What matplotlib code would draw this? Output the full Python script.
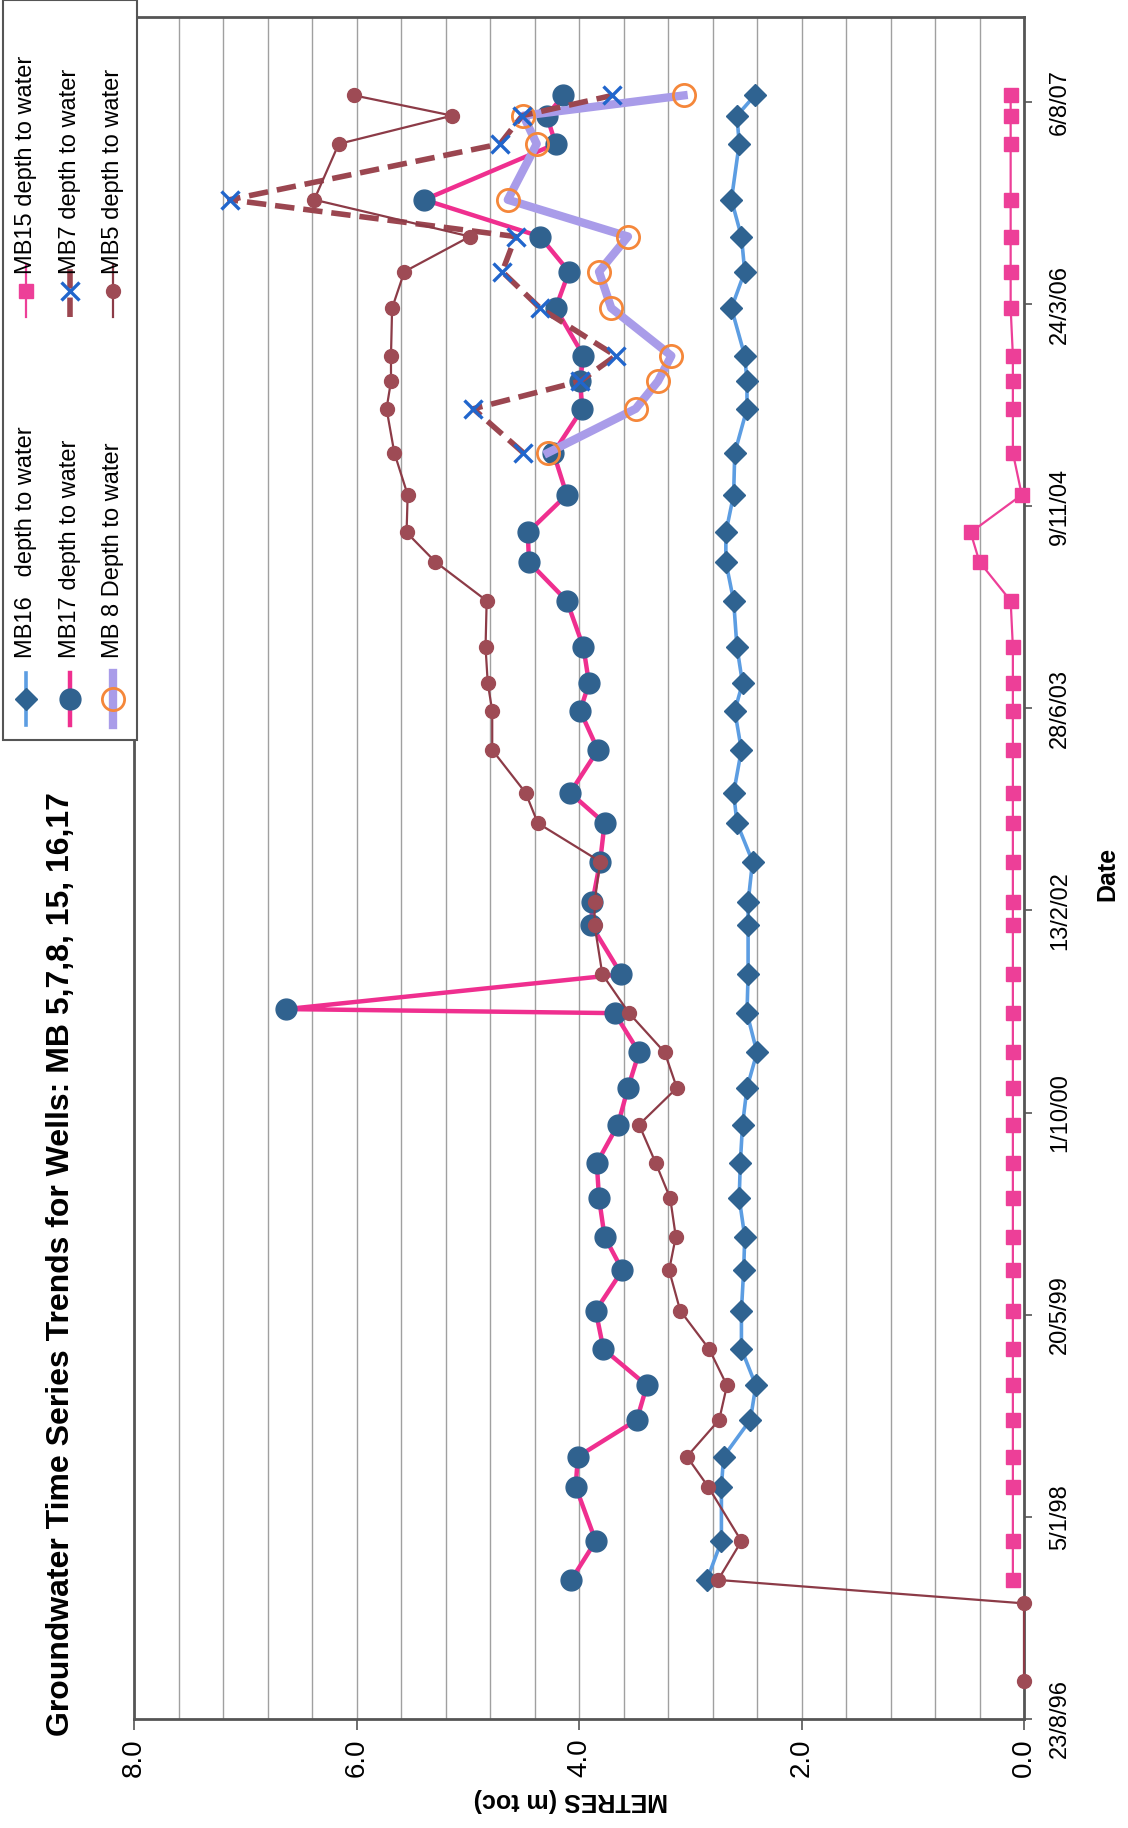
import matplotlib
matplotlib.use('Agg')
import matplotlib.pyplot as plt
from matplotlib.lines import Line2D
from matplotlib.patches import Rectangle
from matplotlib.ticker import FixedLocator, MultipleLocator
import numpy as np
import pandas as pd

nan = np.nan

TITLE = 'Groundwater Time Series Trends for Wells: MB 5,7,8, 15, 16,17'

# monitoring rounds
dates = ['1996-11-26', '1997-06-05', '1997-08-02', '1997-11-06', '1998-03-21', '1998-06-03',
         '1998-09-02', '1998-11-26', '1999-02-24', '1999-05-30', '1999-09-07', '1999-11-29',
         '2000-03-03', '2000-05-29', '2000-09-01', '2000-12-01', '2001-02-27', '2001-06-04',
         '2001-06-14', '2001-09-08', '2002-01-08', '2002-03-05', '2002-06-14', '2002-09-17',
         '2002-12-01', '2003-03-17', '2003-06-22', '2003-08-29', '2003-11-26', '2004-03-20',
         '2004-06-24', '2004-09-05', '2004-12-07', '2005-03-21', '2005-07-08', '2005-09-14',
         '2005-11-16', '2006-03-14', '2006-06-12', '2006-09-07', '2006-12-07', '2007-04-24',
         '2007-07-03', '2007-08-22']

mb16 = [nan, nan, 2.85, 2.72, 2.72, 2.70, 2.46, 2.41, 2.54, 2.54, 2.52, 2.51,
        2.56, 2.55, 2.53, 2.49, 2.40, 2.49, nan, 2.48, 2.48, 2.48, 2.44, 2.58,
        2.61, 2.54, 2.60, 2.53, 2.58, 2.61, 2.68, 2.68, 2.61, 2.60, 2.49, 2.49,
        2.51, 2.63, 2.51, 2.54, 2.63, 2.56, 2.58, 2.42]

mb17 = [nan, nan, 4.07, 3.85, 4.03, 4.01, 3.48, 3.39, 3.78, 3.85, 3.61, 3.77,
        3.82, 3.84, 3.65, 3.56, 3.46, 3.68, 6.63, 3.62, 3.89, 3.88, 3.81, 3.77,
        4.08, 3.83, 3.99, 3.91, 3.96, 4.11, 4.45, 4.46, 4.11, 4.23, 3.97, 3.99,
        3.96, 4.21, 4.09, 4.35, 5.39, 4.21, 4.29, 4.14]

mb15 = [nan, nan, 0.10, 0.10, 0.10, 0.10, 0.10, 0.10, 0.10, 0.10, 0.10, 0.10,
        0.10, 0.10, 0.10, 0.10, 0.10, 0.10, nan, 0.10, 0.10, 0.10, 0.10, 0.10,
        0.10, 0.10, 0.10, 0.10, 0.10, 0.12, 0.40, 0.48, 0.02, 0.10, 0.10, 0.10,
        0.10, 0.12, 0.12, 0.12, 0.12, 0.12, 0.12, 0.12]

mb5 = [0.00, 0.00, 2.75, 2.54, 2.84, 3.03, 2.74, 2.67, 2.83, 3.09, 3.19, 3.13,
       3.18, 3.31, 3.46, 3.12, 3.23, 3.55, nan, 3.79, 3.86, 3.86, 3.81, 4.37,
       4.48, 4.78, 4.78, 4.82, 4.84, 4.83, 5.29, 5.55, 5.54, 5.66, 5.73, 5.69,
       5.69, 5.68, 5.57, 4.98, 6.38, 6.16, 5.14, 6.02]

# MB7 and MB8 were only monitored from 2005
late_dates = ['2005-03-21', '2005-07-08', '2005-09-14', '2005-11-16', '2006-03-14', '2006-06-12',
              '2006-09-07', '2006-12-07', '2007-04-24', '2007-07-03', '2007-08-22']
mb7 = [4.50, 4.95, 3.99, 3.67, 4.35, 4.69, 4.57, 7.14, 4.71, 4.51, 3.70]
mb8 = [4.28, 3.49, 3.29, 3.17, 3.71, 3.82, 3.56, 4.64, 4.38, 4.50, 3.06]

date_labels = ['23/8/96', '5/1/98', '20/5/99', '1/10/00', '13/2/02',
               '28/6/03', '9/11/04', '24/3/06', '6/8/07']
metre_labels = ['8.0', '6.0', '4.0', '2.0', '0.0']

W, H = 1128, 1828
FONT = ['Liberation Sans', 'DejaVu Sans']
plt.rcParams['font.family'] = FONT


def fx(x):
    return x / W


def fy(y):
    return 1 - y / H


styles = {
    'MB16   depth to water': dict(color='#5c9de2', lw=2.6, marker='D', ms=11,
                                  mfc='#2f6391', mec='#2f6391'),
    'MB17 depth to water': dict(color='#ef2f8f', lw=3.2, marker='o', ms=15,
                                mfc='#30628f', mec='#30628f'),
    'MB 8 Depth to water': dict(color='#a99ce9', lw=6, marker='o', ms=16,
                                mfc='none', mec='#f5873a', mew=2),
    'MB15 depth to water': dict(color='#ed3f98', lw=1.6, marker='s', ms=10,
                                mfc='#ed3f98', mec='#ed3f98'),
    'MB7 depth to water': dict(color='#9b4650', lw=4, ls=(0, (3.5, 1.6)), marker='x', ms=13,
                               mec='#2166cc', mew=2.4),
    'MB5 depth to water': dict(color='#8c3b47', lw=1.6, marker='o', ms=10,
                               mfc='#9e4b55', mec='#9e4b55'),
}

series = {
    'MB16   depth to water': pd.Series(mb16, index=pd.to_datetime(dates)),
    'MB17 depth to water': pd.Series(mb17, index=pd.to_datetime(dates)),
    'MB 8 Depth to water': pd.Series(mb8, index=pd.to_datetime(late_dates)),
    'MB15 depth to water': pd.Series(mb15, index=pd.to_datetime(dates)),
    'MB7 depth to water': pd.Series(mb7, index=pd.to_datetime(late_dates)),
    'MB5 depth to water': pd.Series(mb5, index=pd.to_datetime(dates)),
}

fig = plt.figure(figsize=(W / 100, H / 100), dpi=100)
ax = fig.add_axes([fx(134), fy(1719), (1024 - 134) / W, (1719 - 17) / H])

# chart is drawn turned on its side: metres run right-to-left, dates bottom-to-top
for z, (name, s) in enumerate(series.items()):
    s = s.dropna()
    ax.plot(s.values, s.index, zorder=3 + z, clip_on=False, **styles[name])

ax.set_xlim(8, 0)
ax.set_ylim(pd.Timestamp('1996-08-23'), pd.Timestamp('2008-03-03'))

ax.xaxis.set_major_locator(FixedLocator([8, 6, 4, 2, 0]))
ax.set_xticklabels(metre_labels, rotation=90, fontsize=20)
ax.xaxis.set_minor_locator(MultipleLocator(0.4))
ax.tick_params(axis='x', which='major', direction='out', length=8, width=1.2,
               color='#555555', pad=6)
ax.tick_params(axis='x', which='minor', length=0)
ax.grid(True, axis='x', which='both', color='#a0a0a0', lw=1.0)
ax.set_axisbelow(True)

tick_dates = pd.date_range('1996-08-23', periods=len(date_labels), freq='500D')
ax.yaxis.tick_right()
ax.set_yticks(tick_dates)
ax.set_yticklabels(date_labels, rotation=90, va='center', fontsize=17)
ax.tick_params(axis='y', direction='out', length=6, width=1.2, color='#555555', pad=12)

for sp in ax.spines.values():
    sp.set_color('#555555')
    sp.set_linewidth(2)

fig.text(fx(61), fy(1264), TITLE, rotation=90, fontsize=23, fontweight='bold',
         ha='center', va='center')
fig.text(fx(571), fy(1800), 'METRES (m toc)', rotation=180, fontsize=18,
         fontweight='bold', ha='center', va='center')
fig.text(fx(1107), fy(874), 'Date', rotation=90, fontsize=18, fontweight='bold',
         ha='center', va='center')

# legend, drawn by hand because it is rotated with the chart
fig.add_artist(Rectangle((fx(3), fy(740)), fx(134), 740 / H, transform=fig.transFigure,
                         fill=True, fc='white', ec='#555555', lw=1.5, zorder=10))
names = list(series.keys())
cols = [(699, 658), (291, 274)]
rows = [26, 70, 113]
for i, name in enumerate(names):
    my, ty = cols[i // 3]
    x = rows[i % 3]
    st = dict(styles[name])
    fig.add_artist(Line2D([fx(x), fx(x)], [fy(my + 26), fy(my - 26)], transform=fig.transFigure,
                          color=st['color'], lw=st['lw'], ls=st.get('ls', '-'), zorder=11))
    mk = {k: v for k, v in st.items() if k not in ('color', 'lw', 'ls')}
    fig.add_artist(Line2D([fx(x)], [fy(my)], transform=fig.transFigure, ls='none',
                          zorder=12, **mk))
    fig.text(fx(x), fy(ty), name, rotation=90, fontsize=17, ha='center', va='bottom',
             zorder=12)

fig.savefig('out.png', dpi=100)
